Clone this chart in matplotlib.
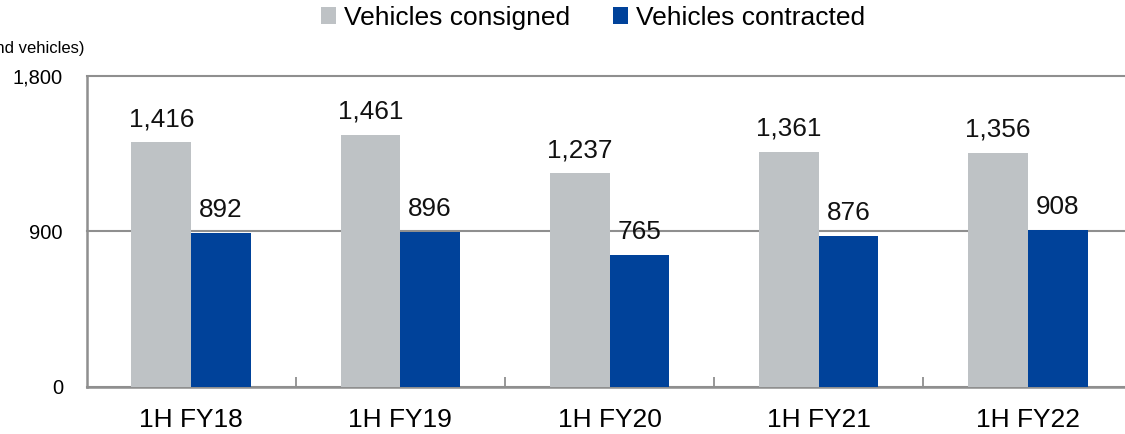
import numpy as np
import matplotlib
matplotlib.use('Agg')
import matplotlib.pyplot as plt
from matplotlib.ticker import FuncFormatter

# data
periods = ['1H FY18', '1H FY19', '1H FY20', '1H FY21', '1H FY22']
consigned = [1416, 1461, 1237, 1361, 1356]
contracted = [892, 896, 765, 876, 908]
series_names = ['Vehicles consigned', 'Vehicles contracted']
unit_label = '(Thousand vehicles)'
y_ticks = [0, 900, 1800]

gray = '#BEC2C5'
blue = '#00429A'
line_col = '#8F8F8F'

plt.rcParams['font.family'] = ['Liberation Sans', 'DejaVu Sans']

fig = plt.figure(figsize=(11.25, 4.34), dpi=100)
ax = fig.add_axes([0.0769, 0.1083, 0.9231, 0.7166])

x = np.arange(len(periods))
w = 0.285
b1 = ax.bar(x - w / 2, consigned, w, color=gray, label=series_names[0], zorder=3)
b2 = ax.bar(x + w / 2, contracted, w, color=blue, label=series_names[1], zorder=3)

for bars in (b1, b2):
    ax.bar_label(bars, labels=[f'{v:,}' for v in bars.datavalues],
                 padding=8, fontsize=18.8, color='#111111')

ax.set_ylim(0, 1800)
ax.set_xlim(-0.5, 4.464)
ax.set_yticks(y_ticks)
ax.yaxis.set_major_formatter(FuncFormatter(lambda v, pos: f'{int(v):,}'))
ax.tick_params(axis='y', length=0, pad=17, labelsize=14.5)
ax.set_xticks(x)
ax.set_xticklabels(periods)
ax.tick_params(axis='x', which='major', length=0, pad=15, labelsize=19)
ax.set_xticks(np.arange(0.5, 4.5, 1), minor=True)
ax.tick_params(axis='x', which='minor', direction='in', length=7,
               width=1.3, color=line_col)

ax.yaxis.grid(True, color=line_col, linewidth=1.5, zorder=0)
for gl in ax.get_ygridlines():
    gl.set_clip_on(False)
ax.set_axisbelow(True)

for side in ('top', 'right'):
    ax.spines[side].set_visible(False)
for side in ('left', 'bottom'):
    ax.spines[side].set_color(line_col)
    ax.spines[side].set_linewidth(1.8)

fig.text(85 / 1125, 1 - 48 / 434, unit_label, ha='right', va='center', fontsize=12)

fig.legend(handles=[b1, b2], loc='center', bbox_to_anchor=(593 / 1125, 1 - 18 / 434),
           ncol=2, frameon=False, fontsize=19, handlelength=0.6,
           handleheight=0.6, handletextpad=0.3, columnspacing=1.6)

fig.savefig('out.png', dpi=100)
